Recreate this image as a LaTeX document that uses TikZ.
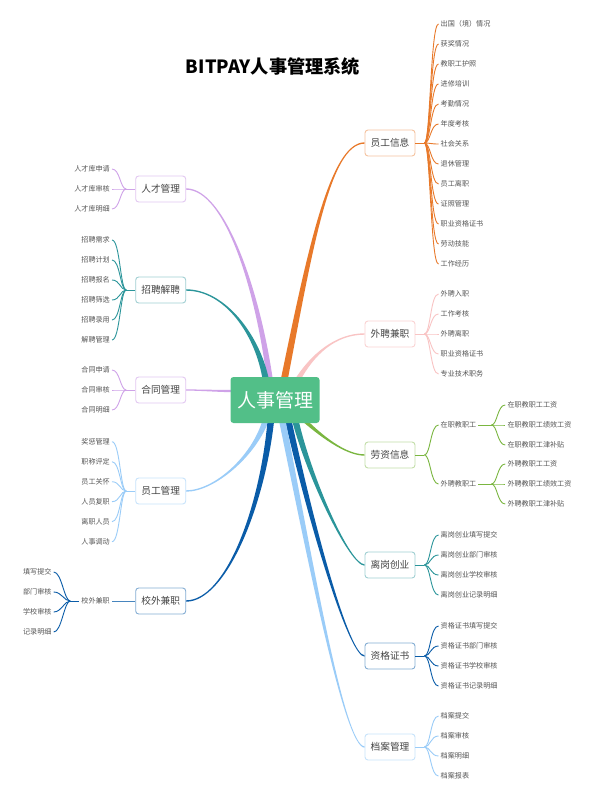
\documentclass[tikz,border=0pt]{standalone}
\usepackage{fontspec}
\setmainfont{Noto Sans CJK SC}
\usetikzlibrary{calc,backgrounds}
\definecolor{corange}{HTML}{E8792A}
\definecolor{cpink}{HTML}{F9C4C4}
\definecolor{cgreen}{HTML}{7AB640}
\definecolor{cteal}{HTML}{2B959A}
\definecolor{cdblue}{HTML}{0A5CA8}
\definecolor{clblue}{HTML}{9ACCF8}
\definecolor{cpurple}{HTML}{CFA2E8}
\definecolor{ccenter}{HTML}{52BF88}
\definecolor{ctext}{HTML}{444444}
\definecolor{cleaf}{HTML}{555555}
% tapered connector: colour, start, c1, c2, end, start half-width vector, end half-width vector
\newcommand\taper[7]{\fill[#1] ($#2+#6$) .. controls ($#3+0.7*#6$) and ($#4+#7$) .. ($#5+#7$) -- ($#5-#7$) .. controls ($#4-#7$) and ($#3-0.7*#6$) .. ($#2-#6$) -- cycle;}
% right-hand leaves: node, colour, prefix, spine length, leaf x, first y, list
\newcommand\rleaves[7]{%
  \coordinate (#3s) at ($(#1.east)+(#4,0)$);
  \draw[lk=#2] (#1.east) -- (#3s);
  \foreach \t [count=\i] in {#7} {
    \node[leafr] (#3\i) at (#5,{#6+20*(\i-1)}) {\t};
    \draw[lk=#2] (#3s) .. controls +(6,0) and +(-8,0) .. (#3\i.west);
  }}
% left-hand leaves
\newcommand\lleaves[7]{%
  \coordinate (#3s) at ($(#1.west)+(-#4,0)$);
  \draw[lk=#2] (#1.west) -- (#3s);
  \foreach \t [count=\i] in {#7} {
    \node[leafl] (#3\i) at (#5,{#6+20*(\i-1)}) {\t};
    \draw[lk=#2] (#3s) .. controls +(-6,0) and +(8,0) .. (#3\i.east);
  }}
\tikzset{
  titletext/.style={font=\fontsize{18.2}{20}\selectfont\bfseries, text=black},
  cbox/.style={fill=ccenter, rounded corners=3pt, minimum width=89pt, minimum height=46pt, text=white, font=\fontsize{19}{22}\selectfont, inner sep=0pt},
  bbox/.style={draw=#1, fill=white, rounded corners=3pt, line width=0.9pt, minimum width=50pt, minimum height=26pt, inner sep=0pt, text=ctext, font=\fontsize{9.7}{11}\selectfont},
  leafr/.style={anchor=west, inner sep=2pt, text=cleaf, font=\fontsize{7.1}{8}\selectfont},
  leafl/.style={anchor=east, inner sep=2pt, text=cleaf, font=\fontsize{7.1}{8}\selectfont},
  lk/.style={draw=#1, line width=0.9pt},
}
\begin{document}
\begin{tikzpicture}[x=1pt,y=-1pt]
\useasboundingbox (0,0) rectangle (594,800);
\node[titletext] (title) at (273,67) {BITPAY人事管理系统};
\node[cbox] (c) at (275,400) {人事管理};
% level-1 boxes
\node[bbox=corange!45] (r1) at (390,143) {员工信息};
\node[bbox=cpink!75] (r2) at (390,334) {外聘兼职};
\node[bbox=cgreen!45] (r3) at (390,455) {劳资信息};
\node[bbox=cteal!45] (r4) at (390,565) {离岗创业};
\node[bbox=cdblue!50] (r5) at (390,656) {资格证书};
\node[bbox=clblue!55] (r6) at (390,747) {档案管理};
\node[bbox=cpurple!60] (l1) at (160.7,189) {人才管理};
\node[bbox=cteal!45] (l2) at (160.7,290) {招聘解聘};
\node[bbox=cpurple!60] (l3) at (160.7,390) {合同管理};
\node[bbox=clblue!55] (l4) at (160.7,491) {员工管理};
\node[bbox=cdblue!50] (l5) at (160.7,601) {校外兼职};
% start points of main connectors (inside the central box)
\coordinate (so1) at ($(c.north)+(9,4)$);
\coordinate (so2) at ($(c.north)+(22,4)$);
\coordinate (so3) at ($(c.south)+(28,-4)$);
\coordinate (so4) at ($(c.south)+(20,-4)$);
\coordinate (so5) at ($(c.south)+(13,-4)$);
\coordinate (so6) at ($(c.south)+(7,-4)$);
\coordinate (sl1) at ($(c.north)+(-5,4)$);
\coordinate (sl2) at ($(c.north)+(-9,4)$);
\coordinate (sl3) at ($(c.west)+(4,-9)$);
\coordinate (sl4) at ($(c.south)+(-9,-4)$);
\coordinate (sl5) at ($(c.south)+(-4,-4)$);
\begin{scope}[on background layer]
\fill[white] (0,0) rectangle (594,800);
\taper{corange}{(so1)}{(310,250)}{(330,143)}{(r1.west)}{(3.5,0)}{(0,0.7)}
\taper{cpink}{(so2)}{(312,355)}{(335,334)}{(r2.west)}{(3,0)}{(0,0.7)}
\taper{cgreen}{(so3)}{(320,435)}{(345,455)}{(r3.west)}{(3,0)}{(0,-0.7)}
\taper{cteal}{(so4)}{(310,480)}{(350,565)}{(r4.west)}{(3.3,0)}{(0,-0.7)}
\taper{cdblue}{(so5)}{(315,540)}{(350,656)}{(r5.west)}{(3.3,0)}{(0,-0.7)}
\taper{clblue}{(so6)}{(312,570)}{(345,747)}{(r6.west)}{(3.3,0)}{(0,-0.7)}
\taper{cpurple}{(sl1)}{(258,290)}{(225,189)}{(l1.east)}{(3,0)}{(0,-0.7)}
\taper{cteal}{(sl2)}{(258,335)}{(225,290)}{(l2.east)}{(3.2,0)}{(0,-0.7)}
\taper{cpurple}{(sl3)}{(215,391)}{(200,390)}{(l3.east)}{(0,1.3)}{(0,0.6)}
\taper{clblue}{(sl4)}{(255,455)}{(215,491)}{(l4.east)}{(3.2,0)}{(0,0.7)}
\taper{cdblue}{(sl5)}{(262,510)}{(225,601)}{(l5.east)}{(3.3,0)}{(0,0.7)}
\end{scope}
% right leaves
\rleaves{r1}{corange}{a}{9}{438.5}{24}{出国（境）情况,获奖情况,教职工护照,进修培训,考勤情况,年度考核,社会关系,退休管理,员工离职,证照管理,职业资格证书,劳动技能,工作经历}
\rleaves{r2}{cpink}{b}{9}{438.5}{294}{外聘入职,工作考核,外聘离职,职业资格证书,专业技术职务}
% 劳资信息
\node[leafr] (d1) at (438.5,425) {在职教职工};
\node[leafr] (d2) at (438.5,484) {外聘教职工};
\coordinate (ds) at ($(r3.east)+(9,0)$);
\draw[lk=cgreen] (r3.east) -- (ds);
\draw[lk=cgreen] (ds) .. controls +(6,0) and +(-8,0) .. (d1.west);
\draw[lk=cgreen] (ds) .. controls +(6,0) and +(-8,0) .. (d2.west);
\rleaves{d1}{cgreen}{e}{13}{505.3}{405}{在职教职工工资,在职教职工绩效工资,在职教职工津补贴}
\rleaves{d2}{cgreen}{f}{13}{505.3}{464}{外聘教职工工资,外聘教职工绩效工资,外聘教职工津补贴}
\rleaves{r4}{cteal}{g}{9}{438.5}{535}{离岗创业填写提交,离岗创业部门审核,离岗创业学校审核,离岗创业记录明细}
\rleaves{r5}{cdblue}{h}{9}{438.5}{626}{资格证书填写提交,资格证书部门审核,资格证书学校审核,资格证书记录明细}
\rleaves{r6}{clblue}{k}{9}{438.5}{716}{档案提交,档案审核,档案明细,档案报表}
% left leaves
\lleaves{l1}{cpurple}{m}{9}{112}{169}{人才库申请,人才库审核,人才库明细}
\lleaves{l2}{cteal}{n}{9}{112}{240}{招聘需求,招聘计划,招聘报名,招聘筛选,招聘录用,解聘管理}
\lleaves{l3}{cpurple}{p}{9}{112}{370}{合同申请,合同审核,合同明细}
\lleaves{l4}{clblue}{q}{9}{112}{441.7}{奖惩管理,职称评定,员工关怀,人员复职,离职人员,人事调动}
\node[leafl] (x5) at (112,601) {校外兼职};
\draw[lk=cdblue!75] (l5.west) -- (x5.east);
\lleaves{x5}{cdblue}{w}{9}{53.7}{572}{填写提交,部门审核,学校审核,记录明细}
\end{tikzpicture}
\end{document}
